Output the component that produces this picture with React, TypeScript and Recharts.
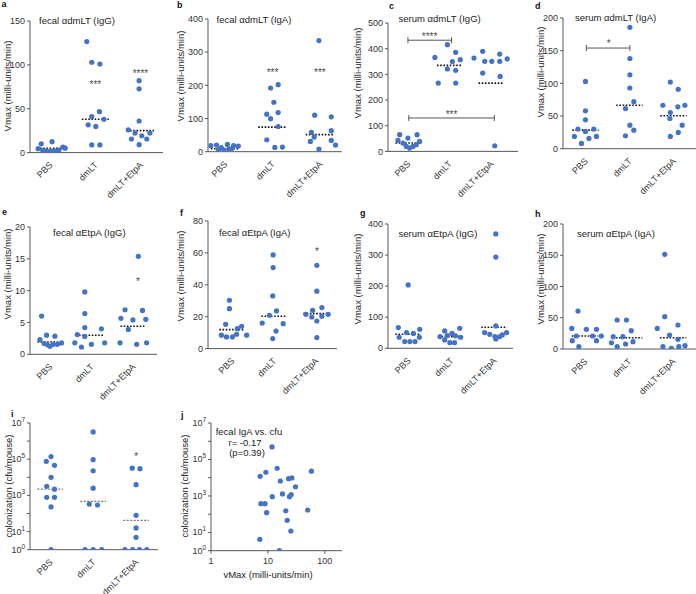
import React from 'react'
import { ScatterChart, Scatter, XAxis, YAxis, ReferenceLine, ReferenceDot } from 'recharts'

const groups = ['PBS', 'dmLT', 'dmLT+EtpA']
const FONT = '"Liberation Sans", Arial, Helvetica, sans-serif'
const DOT = '#4472c4'
const AXIS = '#555'

// values per group (PBS, dmLT, dmLT+EtpA) and horizontal scatter offsets
const aVals = [[10, 12.4, 4.5, 2.5, 2, 1.8, 2, 2.8, 6.3, 5], [126.6, 103, 101, 46.7, 41, 38, 31.7, 29.8, 8.7, 8.7], [82, 72.7, 36, 26, 22.2, 19.2, 22.2, 15.5, 15.5, 9]]
const aJit = [[-0.2, 0.04, -0.27, -0.17, -0.08, 0.01, 0.1, 0.19, 0.28, 0.33], [-0.19, -0.08, 0.1, 0.09, -0.08, 0.19, -0.16, 0.01, -0.08, 0.1], [-0.03, -0.03, -0.03, -0.27, -0.12, 0.03, 0.21, -0.2, 0.14, -0.03]]
const aMed = [4.9, 38, 25]

const bVals = [[18, 20, 12, 6, 5, 22, 8, 18, 17, 10], [192, 202, 149, 113, 118, 99.5, 76, 36, 13, 14], [335, 110, 105, 63.5, 58.5, 44, 34, 31, 20, 8]]
const bJit = [[-0.3, -0.18, -0.08, -0.14, -0.02, 0.05, 0.08, 0.18, 0.28, 0.15], [-0.04, 0.12, 0.03, -0.12, 0.12, -0.04, 0.12, -0.12, 0.05, 0.21], [-0.02, -0.11, 0.24, 0.24, -0.18, -0.12, 0.24, -0.2, 0.33, -0.02]]
const bMed = [9, 74, 51.3]

const cVals = [[65, 65, 52, 43, 32.5, 39, 19.5, 13, 19.5, 26], [415.6, 385.7, 366, 350, 357, 321, 315.6, 266, 266], [363.6, 389.6, 350.6, 350.6, 350.6, 379, 360, 305, 292, 22]]
const cJit = [[-0.2, 0.22, 0, -0.24, -0.12, 0.28, -0.04, 0.04, 0.12, 0.2], [-0.05, 0.15, -0.35, 0.07, 0.26, -0.05, 0.15, -0.27, 0.15], [-0.41, -0.2, -0.15, 0.02, 0.21, 0.21, 0.39, -0.2, 0.22, 0.09]]
const cMed = [32.5, 335, 266]

const dVals = [[103, 57.9, 44.2, 30, 30, 26.4, 18.8, 15.7, 18.8, 8.1], [185.8, 138, 113, 92.9, 72, 61.4, 36, 28.4, 19.8], [102, 90.9, 66.5, 64, 66.5, 55.3, 46.2, 36, 24.9, 18.8]]
const dJit = [[0, 0, 0, -0.17, 0.19, 0, -0.25, 0.08, 0.25, -0.09], [0.01, 0.01, 0.01, 0.01, 0.1, -0.09, 0.01, 0.1, -0.09], [-0.07, 0.11, -0.24, 0.1, 0.26, -0.07, -0.08, 0.2, 0.11, -0.07]]
const dMed = [28.4, 66.5, 50.3]

const eVals = [[6, 3, 2.85, 2.3, 1.7, 1.25, 1.57, 1.57, 1.78, 1.5], [9.8, 6.4, 4.2, 4.0, 3.1, 2.8, 1.8, 1.57, 1.8, 1.15], [15.4, 7.0, 6.9, 5.65, 5.4, 5.5, 3.9, 1.8, 1.57, 1.8]]
const eJit = [[-0.2, -0.08, 0.12, -0.24, -0.14, 0, 0.08, 0.18, 0.28, -0.06], [-0.16, -0.16, -0.16, 0.24, -0.34, -0.16, -0.4, 0, 0.32, -0.24], [0.13, -0.19, 0.23, -0.29, 0, 0.31, -0.11, -0.31, 0.09, 0.33]]
const eMed = [1.94, 3.0, 4.4]

const fVals = [[30.3, 25, 15.2, 12.5, 8.4, 7.3, 7.3, 9, 14, 8.4], [58.7, 50.8, 33, 23.6, 20.9, 16, 15.6, 11, 6.3], [52.2, 36, 24, 25.7, 21.5, 19.8, 17.3, 20.3, 21.5, 6.9]]
const fJit = [[-0.06, -0.06, -0.15, 0.13, -0.25, -0.13, 0.01, 0.11, 0.23, 0.35], [-0.02, -0.02, -0.03, 0.06, -0.11, -0.28, 0.22, 0.05, -0.03], [0.02, 0.02, -0.08, 0.14, -0.24, -0.1, 0.02, 0.14, 0.29, 0.02]]
const fMed = [11.9, 20.3, 21.9]

const gVals = [[204, 66.7, 61, 50.5, 48, 35.5, 35.5, 21.5, 21.5, 21.5], [56, 64.5, 48, 37.6, 41, 40, 35.5, 27, 18, 18], [368, 293.5, 72, 50.5, 45, 37.6, 37.6, 50.5, 43, 30]]
const gJit = [[0, -0.23, 0.27, -0.04, 0.12, -0.21, 0.26, -0.08, 0.04, 0.16], [-0.15, 0.2, 0.02, -0.26, -0.09, 0.1, 0.22, -0.15, -0.03, 0.08], [0.04, 0.04, 0.04, -0.22, -0.1, 0.02, 0.13, 0.29, 0.19, 0.04]]
const gMed = [45, 37.6, 67.7]

const hVals = [[60.8, 33, 31.5, 31.5, 20.8, 20.8, 20.8, 13.3, 13.3, 3.7], [46.4, 46.4, 29.3, 19.7, 19.7, 10, 11.7, 8, 3.7], [151.5, 51.7, 38.4, 33, 22.4, 15.5, 5.3, 3.7, 1, 3.7]]
const hJit = [[-0.16, -0.3, 0.03, 0.26, -0.2, 0.17, 0.37, -0.29, 0.26, -0.14], [-0.27, -0.06, 0.05, -0.36, -0.14, -0.4, 0.09, -0.08, -0.27], [-0.19, -0.19, 0.11, -0.36, -0.08, 0.11, 0.27, -0.23, -0.04, 0.13]]
const hMed = [20.8, 18, 18]

const iVals = [[1.4e5, 7.6e4, 4.6e4, 1e4, 3.2e3, 2.2e3, 780, 780, 230, 1], [3.2e6, 9.4e4, 2.3e4, 2.5e3, 330, 295, 1, 1, 1], [3.2e4, 3e4, 3.9e3, 79, 16, 4.8, 1, 1, 1, 1]]
const iJit = [[0.02, -0.09, 0.1, 0.02, -0.08, 0.1, -0.08, 0.1, 0.02, 0.02], [0, 0, 0, 0, -0.09, 0.1, -0.19, 0, 0.2], [-0.09, 0.09, 0, 0, 0, 0, -0.26, -0.08, 0.08, 0.25]]
const iMed = [2.2e3, 470, 42]

// j: fecal IgA vMax vs colonization
const jVmax = [11.8, 7.3, 9.2, 14.5, 58, 16.5, 23, 26.4, 30.5, 18, 11.9, 23.9, 25.6, 7.5, 8.9, 9.5, 20.6, 50, 21.8, 25.3, 7.2, 15.9]
const jCfu = [4.9e5, 1.2e4, 2e4, 3.3e4, 2.3e4, 6.6e3, 8.9e3, 9.7e3, 3.2e3, 1.3e3, 920, 920, 1.2e3, 380, 380, 121, 155, 170, 46, 12, 4.2, 1]

type Star = { x: number; y: number; text: string }
type Bracket = { x1: number; x2: number; y: number }

const aStars: Star[] = [{ x: 1, y: 79.5, text: '***' }, { x: 2, y: 91.6, text: '****' }]
const bStars: Star[] = [{ x: 1, y: 244, text: '***' }, { x: 2, y: 244, text: '***' }]
const cStars: Star[] = [{ x: 0.52, y: 455, text: '****' }, { x: 1.05, y: 150, text: '***' }]
const cBrackets: Bracket[] = [{ x1: 0, x2: 1.05, y: 433 }, { x1: 0.02, x2: 2.08, y: 130 }]
const dStars: Star[] = [{ x: 0.53, y: 163, text: '*' }]
const dBrackets: Bracket[] = [{ x1: 0.02, x2: 1.01, y: 154 }]
const eStars: Star[] = [{ x: 2.12, y: 11.6, text: '*' }]
const fStars: Star[] = [{ x: 2.02, y: 62, text: '*' }]
const iStars: Star[] = [{ x: 2, y: 1.8e5, text: '*' }]

const ML = 34, MT = 14, MR = 6, MB = 64

const DotShape = (p: any) => <circle cx={p.cx} cy={p.cy} r={2.6} fill={DOT} />

const CatTick = ({ x, y, payload }: any) => {
  const tx = x + 3, ty = y + 11
  return (
    <text x={tx} y={ty} transform={`rotate(-45 ${tx} ${ty})`} textAnchor="end" fontSize={9} fill="#333">
      {groups[payload.value]}
    </text>
  )
}

const shownExp = [0, 1, 3, 5, 7]
const LogYTick = ({ x, y, payload }: any) => {
  const e = Math.round(Math.log10(payload.value))
  if (!shownExp.includes(e)) return <g />
  return (
    <text x={x} y={y + 3} textAnchor="end" fontSize={9} fill="#333">
      10<tspan dy={-4} fontSize={6.5}>{e}</tspan>
    </text>
  )
}

const starShape = (text: string) => (p: any) => (
  <text x={p.cx} y={p.cy + 5} textAnchor="middle" fontSize={10} fill="#4a4a4a">{text}</text>
)

const bracketShape = (p: any) => (
  <g stroke="#555" strokeWidth={1}>
    <line x1={p.x1} y1={p.y1} x2={p.x2} y2={p.y2} />
    <line x1={p.x1} y1={p.y1 - 3} x2={p.x1} y2={p.y1 + 3} />
    <line x1={p.x2} y1={p.y2 - 3} x2={p.x2} y2={p.y2 + 3} />
  </g>
)

interface PanelProps {
  box: [number, number, number, number]
  xDomain: [number, number]
  yDomain: [number, number]
  yTicks: number[]
  vals: number[][]
  jit: number[][]
  medians: number[]
  stars?: Star[]
  brackets?: Bracket[]
  log?: boolean
}

function Panel(p: PanelProps) {
  const [l, t, r, b] = p.box
  const w = r - l + ML + MR
  const h = b - t + MT + MB
  const data = p.vals.flatMap((vs, gi) => vs.map((v, k) => ({ x: gi + p.jit[gi][k], y: v })))
  const medStroke = p.log ? '#777' : '#111'
  return (
    <div style={{ position: 'absolute', left: l - ML, top: t - MT }}>
      <ScatterChart width={w} height={h} margin={{ top: MT, right: MR, bottom: 0, left: 0 }}>
        <XAxis type="number" dataKey="x" domain={p.xDomain} ticks={[0, 1, 2]} interval={0}
          tick={(props: any) => <CatTick {...props} />} tickLine={false} tickSize={0} height={MB}
          stroke={AXIS} allowDataOverflow />
        <YAxis type="number" dataKey="y" domain={p.yDomain} ticks={p.yTicks} interval={0} width={ML}
          scale={p.log ? 'log' : 'auto'} tickSize={3} tickMargin={2} stroke={AXIS}
          tick={p.log ? (props: any) => <LogYTick {...props} /> : { fontSize: 9, fill: '#333' }}
          allowDataOverflow />
        <Scatter data={data} shape={DotShape} isAnimationActive={false} />
        {p.medians.map((m, i) => (
          <ReferenceLine key={'m' + i} segment={[{ x: i - 0.3, y: m }, { x: i + 0.3, y: m }]}
            stroke={medStroke} strokeWidth={p.log ? 1.2 : 1.6} strokeDasharray={p.log ? '2 1.5' : '1.6 1.6'} />
        ))}
        {(p.brackets || []).map((br, i) => (
          <ReferenceLine key={'b' + i} segment={[{ x: br.x1, y: br.y }, { x: br.x2, y: br.y }]} shape={bracketShape} />
        ))}
        {(p.stars || []).map((s, i) => (
          <ReferenceDot key={'s' + i} x={s.x} y={s.y} r={0} shape={starShape(s.text)} />
        ))}
      </ScatterChart>
    </div>
  )
}

function CorrPanel() {
  const [l, t, r, b] = [210.7, 423.3, 341.7, 551]
  const data = jVmax.map((v, i) => ({ x: v, y: jCfu[i] }))
  return (
    <div style={{ position: 'absolute', left: l - ML, top: t - MT }}>
      <ScatterChart width={r - l + ML + MR} height={b - t + MT + 30} margin={{ top: MT, right: MR, bottom: 0, left: 0 }}>
        <XAxis type="number" dataKey="x" scale="log" domain={[1, 200]} ticks={[1, 10, 100]} interval={0}
          tickSize={3} tickMargin={4} height={30} stroke={AXIS} tick={{ fontSize: 9, fill: '#333' }} allowDataOverflow />
        <YAxis type="number" dataKey="y" scale="log" domain={[1, 1e7]} ticks={[1, 10, 100, 1e3, 1e4, 1e5, 1e6, 1e7]}
          interval={0} width={ML} tickSize={3} tickMargin={2} stroke={AXIS}
          tick={(props: any) => <LogYTick {...props} />} allowDataOverflow />
        <Scatter data={data} shape={DotShape} isAnimationActive={false} />
      </ScatterChart>
    </div>
  )
}

const letters = [
  { t: 'a', x: 1.5, y: 7 }, { t: 'b', x: 177, y: 8 }, { t: 'c', x: 389, y: 9 }, { t: 'd', x: 535, y: 9 },
  { t: 'e', x: 2, y: 215 }, { t: 'f', x: 180, y: 216 }, { t: 'g', x: 360, y: 216 }, { t: 'h', x: 535, y: 217 },
  { t: 'i', x: 11, y: 417 }, { t: 'j', x: 181, y: 418 },
]
const titles = [
  { t: 'fecal \u03b1dmLT (IgG)', x: 39, y: 23.5 }, { t: 'fecal \u03b1dmLT (IgA)', x: 216.5, y: 23 },
  { t: 'serum \u03b1dmLT (IgG)', x: 398.5, y: 21.5 }, { t: 'serum \u03b1dmLT (IgA)', x: 575, y: 20.5 },
  { t: 'fecal \u03b1EtpA (IgG)', x: 53, y: 235.5 }, { t: 'fecal \u03b1EtpA (IgA)', x: 219, y: 235.5 },
  { t: 'serum \u03b1EtpA (IgG)', x: 398.5, y: 236.5 }, { t: 'serum \u03b1EtpA (IgA)', x: 577, y: 236.5 },
]
const yLabels = [
  { t: 'Vmax (milli-units/min)', x: 10.5, y: 86 }, { t: 'Vmax (milli-units/min)', x: 184, y: 76 },
  { t: 'Vmax (milli-units/min)', x: 360.5, y: 73 }, { t: 'Vmax (milli-units/min)', x: 544, y: 72 },
  { t: 'Vmax (milli-units/min)', x: 10.5, y: 274 }, { t: 'Vmax (milli-units/min)', x: 184, y: 276 },
  { t: 'Vmax (milli-units/min)', x: 360.5, y: 279 }, { t: 'Vmax (milli-units/min)', x: 544, y: 279 },
  { t: 'colonization (cfu/mouse)', x: 11.5, y: 486 }, { t: 'colonization (cfu/mouse)', x: 187.5, y: 486 },
]

export default function App() {
  return (
    <div style={{ position: 'absolute', left: 0, top: 0, width: 696, height: 594, overflow: 'hidden', background: '#fff', fontFamily: FONT }}>
      <Panel box={[30, 20.7, 163, 152.3]} xDomain={[-0.45, 2.5]} yDomain={[0, 150]} yTicks={[0, 50, 100, 150]}
        vals={aVals} jit={aJit} medians={aMed} stars={aStars} />
      <Panel box={[208.3, 19.3, 342, 152]} xDomain={[-0.36, 2.46]} yDomain={[0, 400]} yTicks={[0, 100, 200, 300, 400]}
        vals={bVals} jit={bJit} medians={bMed} stars={bStars} />
      <Panel box={[388, 23.3, 518, 151.7]} xDomain={[-0.48, 2.65]} yDomain={[0, 500]} yTicks={[0, 100, 200, 300, 400, 500]}
        vals={cVals} jit={cJit} medians={cMed} stars={cStars} brackets={cBrackets} />
      <Panel box={[562.7, 18.3, 696, 149]} xDomain={[-0.51, 2.52]} yDomain={[0, 200]} yTicks={[0, 50, 100, 150, 200]}
        vals={dVals} jit={dJit} medians={dMed} stars={dStars} brackets={dBrackets} />
      <Panel box={[30, 226.7, 157, 354]} xDomain={[-0.48, 2.58]} yDomain={[0, 20]} yTicks={[0, 5, 10, 15, 20]}
        vals={eVals} jit={eJit} medians={eMed} stars={eStars} />
      <Panel box={[208, 220.7, 337, 348.3]} xDomain={[-0.57, 2.5]} yDomain={[0, 80]} yTicks={[0, 20, 40, 60, 80]}
        vals={fVals} jit={fJit} medians={fMed} stars={fStars} />
      <Panel box={[388, 224, 513, 348.3]} xDomain={[-0.47, 2.44]} yDomain={[0, 400]} yTicks={[0, 100, 200, 300, 400]}
        vals={gVals} jit={gJit} medians={gMed} />
      <Panel box={[563, 224, 696, 349]} xDomain={[-0.5, 2.52]} yDomain={[0, 200]} yTicks={[0, 50, 100, 150, 200]}
        vals={hVals} jit={hJit} medians={hMed} />
      <Panel box={[30, 423.3, 158, 550]} xDomain={[-0.47, 2.51]} yDomain={[1, 1e7]}
        yTicks={[1, 10, 100, 1e3, 1e4, 1e5, 1e6, 1e7]} vals={iVals} jit={iJit} medians={iMed} stars={iStars} log />
      <CorrPanel />
      <svg width={696} height={594} style={{ position: 'absolute', left: 0, top: 0, pointerEvents: 'none' }}>
        {letters.map((d) => (
          <text key={d.t} x={d.x} y={d.y} fontSize={9} fontWeight="bold" fill="#111">{d.t}</text>
        ))}
        {titles.map((d) => (
          <text key={d.t} x={d.x} y={d.y} fontSize={9.5} fill="#222">{d.t}</text>
        ))}
        {yLabels.map((d, i) => (
          <text key={i} x={d.x} y={d.y} transform={`rotate(-90 ${d.x} ${d.y})`} textAnchor="middle" fontSize={9.5} fill="#222">{d.t}</text>
        ))}
        <text x={215.7} y={435} fontSize={9.5} fill="#222">fecal IgA vs. cfu</text>
        <text x={245} y={445.5} fontSize={9.5} fill="#222" textAnchor="middle">r= -0.17</text>
        <text x={247} y={456} fontSize={9.5} fill="#222" textAnchor="middle">(p=0.39)</text>
        <text x={268} y={578} fontSize={9.5} fill="#222" textAnchor="middle">vMax (milli-units/min)</text>
      </svg>
    </div>
  )
}
